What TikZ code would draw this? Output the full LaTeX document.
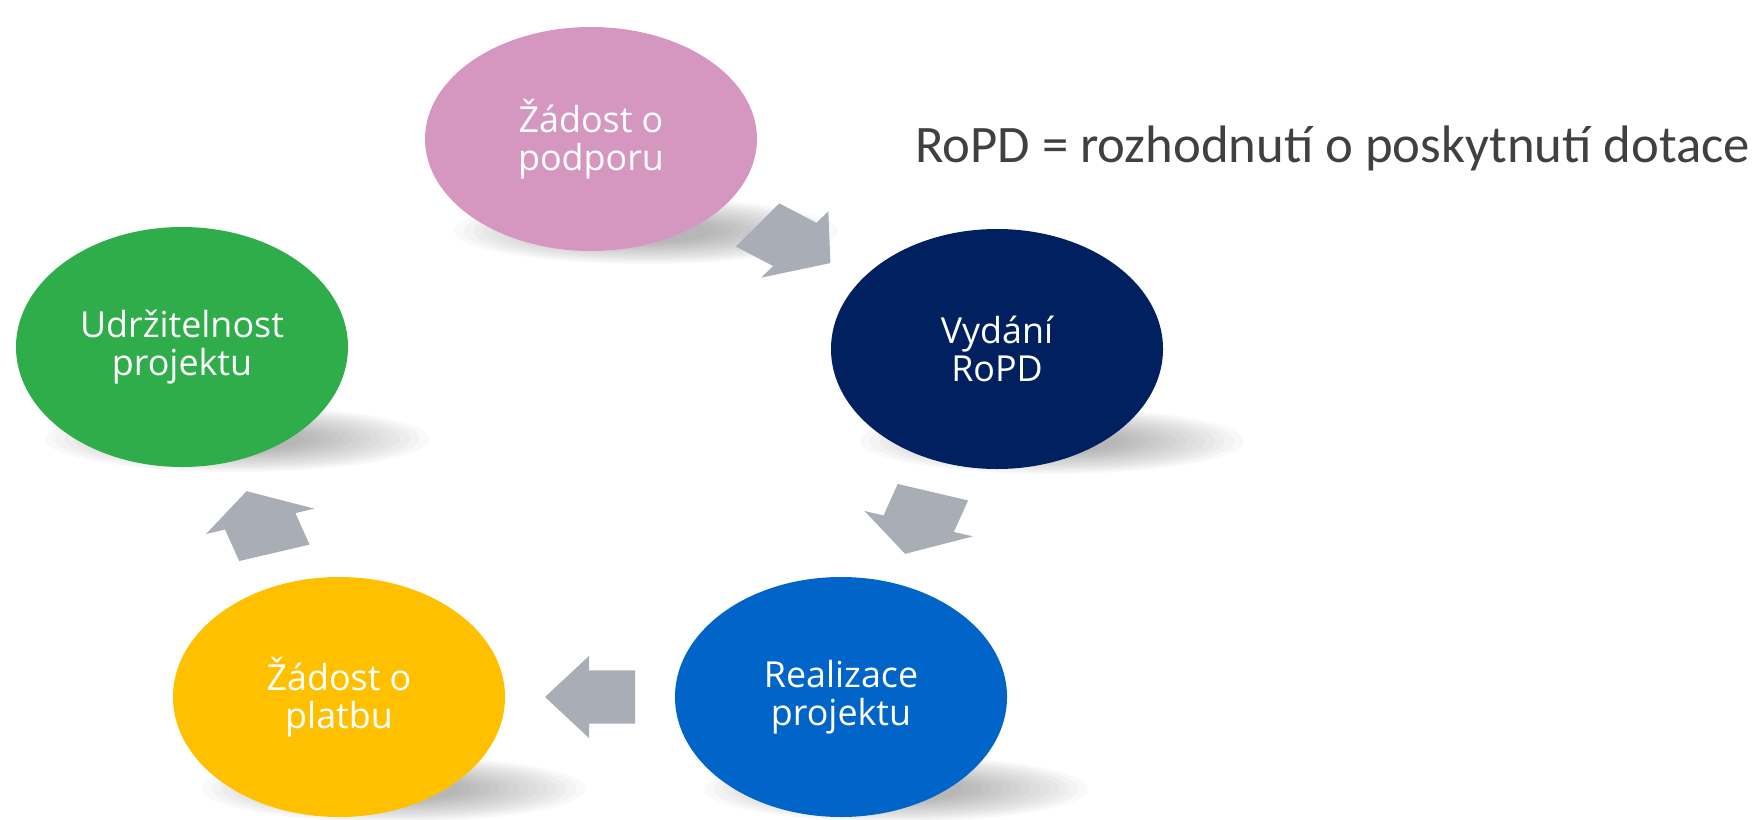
\documentclass[tikz,border=0pt]{standalone}
\usepackage{fontspec}
\setmainfont{Carlito}
\newfontfamily\cyclefont{Open Sans}
\usetikzlibrary{positioning,shapes.geometric,calc,backgrounds}
\definecolor{stagepink}{HTML}{D597C0}
\definecolor{stagenavy}{HTML}{002060}
\definecolor{stageblue}{HTML}{0064C8}
\definecolor{stagegreen}{HTML}{30AD4B}
\definecolor{stageyellow}{HTML}{FFC000}
\definecolor{arrowgray}{HTML}{A9ADB6}
\definecolor{legendgray}{HTML}{404040}

\begin{document}
\begin{tikzpicture}[
    stage/.style={ellipse,minimum width=3.32cm,minimum height=2.4cm,inner sep=0pt,
                  align=center,text=white,
                  font=\cyclefont\fontsize{10.2}{10.8}\selectfont},
    halo/.style={fill=black,opacity=0.022},
    cyclearrow/.pic={
      \fill[arrowgray] (-0.45,0.37) -- (0.01,0.37) -- (0.01,0.57) -- (0.45,0)
        -- (0.01,-0.57) -- (0.01,-0.37) -- (-0.45,-0.37) -- cycle;
    }
  ]
    \useasboundingbox (0,0) rectangle (17.53,8.19);
    \node[stage,fill=stagepink,minimum height=2.24cm] (zadost) at (5.91,6.80) {Žádost o\\podporu};
    \node[stage,fill=stagenavy] (vydani) at (9.97,4.70) {Vydání\\RoPD};
    \node[stage,fill=stageblue] (realizace) at (8.41,1.22) {Realizace\\projektu};
    \node[stage,fill=stageyellow] (platba) at (3.39,1.22) {Žádost o\\platbu};
    \node[stage,fill=stagegreen] (udrzitelnost) at (1.82,4.72) {Udržitelnost\\projektu};
    \node[right=1.45cm of zadost,yshift=-0.09cm,text=legendgray,
          font=\fontsize{15}{18}\selectfont] (legenda)
          {RoPD = rozhodnutí o poskytnutí dotace};
    \path ($(zadost)!0.5!(vydani)$) pic[yscale=0.72,rotate=-36] {cyclearrow};
    \path ($(vydani)!0.5!(realizace)$) pic[yscale=0.72,rotate=252] {cyclearrow};
    \path ($(realizace)!0.5!(platba)$) pic[yscale=0.72,rotate=180] {cyclearrow};
    \path ($(platba)!0.5!(udrzitelnost)$) pic[yscale=0.72,rotate=108] {cyclearrow};
    \begin{scope}[on background layer]
      \foreach \n in {zadost,vydani,realizace,platba,udrzitelnost}
        \foreach \s in {1.0,0.95,...,0.3}
          \fill[halo] ([shift={(0.55,-0.92)}]\n.center) ellipse [x radius=1.92*\s, y radius=0.33*\s];
    \end{scope}
  \end{tikzpicture}
\end{document}
